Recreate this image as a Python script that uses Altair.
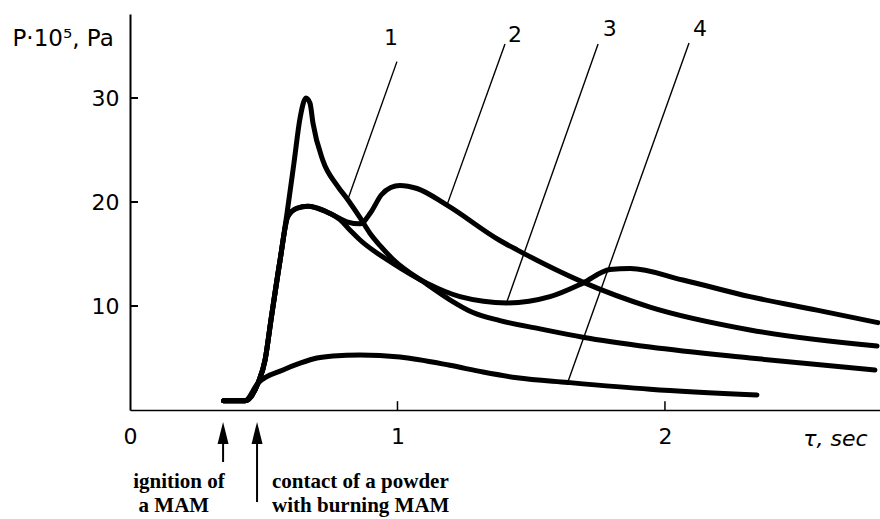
import altair as alt
import pandas as pd

# ---- curve data (time in s, pressure in 10^5 Pa) ----
c1_x = [0.35, 0.43, 0.479, 0.505, 0.527, 0.561, 0.587, 0.613, 0.636, 0.658, 0.673, 0.684, 0.721, 0.774, 0.815,
        0.86, 0.897, 0.935, 0.983, 1.11, 1.196, 1.28, 1.383, 1.533, 1.693, 1.944, 2.318, 2.785]
c1_y = [0.9, 0.9, 2.6, 4.8, 8.65, 14.4, 18.9, 23.75, 28.1, 30.0, 29.5, 27.6, 24.0, 21.6, 20.2,
        18.5, 17.0, 15.8, 14.5, 12.1, 10.6, 9.4, 8.6, 7.8, 7.0, 6.05, 5.0, 3.85]

c2_x = [0.35, 0.43, 0.479, 0.505, 0.527, 0.561, 0.59, 0.624, 0.665, 0.748, 0.811, 0.86, 0.9, 0.94, 0.975,
        1.009, 1.073, 1.185, 1.383, 1.447, 1.693, 1.944, 2.318, 2.793]
c2_y = [0.9, 0.9, 2.6, 4.8, 8.65, 14.4, 18.6, 19.4, 19.6, 18.9, 18.1, 17.9, 19.0, 20.7, 21.4,
        21.6, 21.3, 19.7, 16.3, 15.4, 12.3, 9.9, 7.7, 6.15]

c3_x = [0.35, 0.43, 0.479, 0.505, 0.527, 0.561, 0.59, 0.624, 0.665, 0.748, 0.785, 0.822, 0.86, 0.983, 1.11,
        1.234, 1.409, 1.57, 1.693, 1.794, 1.87, 2.067, 2.318, 2.568, 2.796]
c3_y = [0.9, 0.9, 2.6, 4.8, 8.65, 14.4, 18.6, 19.4, 19.6, 18.9, 18.3, 17.3, 16.35, 14.1, 12.2,
        10.9, 10.3, 10.9, 12.2, 13.5, 13.6, 12.5, 10.9, 9.6, 8.4]

c4_x = [0.35, 0.43, 0.479, 0.572, 0.636, 0.699, 0.759, 0.86, 1.009, 1.196, 1.32, 1.447, 1.637, 1.944, 2.344]
c4_y = [0.9, 0.9, 2.6, 3.85, 4.5, 5.0, 5.2, 5.3, 5.1, 4.3, 3.65, 3.1, 2.65, 2.0, 1.45]

# ---- curve labels and leader lines ----
lab_text = ["1", "2", "3", "4"]
lab_x = [0.976, 1.439, 1.794, 2.131]
lab_y = [35.8, 36.1, 36.6, 36.6]
lead_x1 = [0.998, 1.402, 1.750, 2.090]
lead_y1 = [33.5, 35.2, 35.2, 35.3]
lead_x2 = [0.815, 1.185, 1.409, 1.637]
lead_y2 = [20.3, 19.7, 10.4, 2.7]

# ---- axis ticks ----
y_ticks = [10, 20, 30]
x_ticks = [1, 2]

# ---- event arrows and notes ----
arrow_x = [0.348, 0.475]
arrow_head_y = [-2.2, -2.2]
arrow_top_y = [-2.9, -2.9]
arrow_bot_y = [-5.0, -8.85]
note_text = ["ignition of", "a MAM", "contact of a powder", "with burning MAM"]
note_x = [0.183, 0.164, 0.531, 0.531]
note_y = [-7.5, -9.8, -7.5, -9.8]
note_align = ["center", "center", "left", "left"]

rows = []
for name, xs, ys in [("1", c1_x, c1_y), ("2", c2_x, c2_y), ("3", c3_x, c3_y), ("4", c4_x, c4_y)]:
    for i, (a, b) in enumerate(zip(xs, ys)):
        rows.append({"curve": name, "x": a, "y": b, "order": i})
curves = pd.DataFrame(rows)

labels = pd.DataFrame({"t": lab_text, "x": lab_x, "y": lab_y})
leaders = pd.DataFrame({"x": lead_x1, "y": lead_y1, "x2": lead_x2, "y2": lead_y2})
yt = pd.DataFrame({"x": [0.0] * len(y_ticks), "x2": [0.03] * len(y_ticks), "y": y_ticks})
xt = pd.DataFrame({"x": x_ticks, "y": [0.0] * len(x_ticks), "y2": [0.85] * len(x_ticks)})
shafts = pd.DataFrame({"x": arrow_x, "y": arrow_top_y, "y2": arrow_bot_y})
heads = pd.DataFrame({"x": arrow_x, "y": arrow_head_y})
notes = pd.DataFrame({"t": note_text, "x": note_x, "y": note_y, "a": note_align})

FONT = "DejaVu Sans"
xscale = alt.Scale(domain=[0, 2.804], nice=False, zero=False)
yscale = alt.Scale(domain=[0, 38.08], nice=False, zero=False)
xaxis = alt.Axis(values=[0, 1, 2], format="d", ticks=False, grid=False, domainColor="black", domainWidth=1.5,
                 labelFont=FONT, labelFontSize=22, labelColor="black", labelPadding=16, labelFlush=False,
                 labelOverlap=False,
                 title="τ, sec", titleFont=FONT, titleFontSize=22, titleFontStyle="italic",
                 titleFontWeight="normal", titleColor="black", titleX=705, titleY=35,
                 titleAlign="center", titleBaseline="alphabetic")
yaxis = alt.Axis(values=[10, 20, 30], ticks=False, grid=False, domainColor="black", domainWidth=2,
                 labelFont=FONT, labelFontSize=22, labelColor="black", labelPadding=11,
                 title="P·10⁵, Pa", titleFont=FONT, titleFontSize=23, titleFontWeight="normal",
                 titleColor="black", titleAngle=0, titleX=-118, titleY=31,
                 titleAlign="left", titleBaseline="alphabetic")

X = alt.X("x:Q", scale=xscale, axis=xaxis)
Y = alt.Y("y:Q", scale=yscale, axis=yaxis)

lines = alt.Chart(curves).mark_line(color="black", strokeWidth=5, interpolate="monotone",
                                    strokeCap="round", strokeJoin="round").encode(
    x=X, y=Y, detail="curve:N", order="order:Q")

lead = alt.Chart(leaders).mark_rule(color="black", strokeWidth=1.4).encode(
    x=X, y=Y, x2="x2:Q", y2="y2:Q")

labs = alt.Chart(labels).mark_text(font=FONT, fontSize=22, color="black", baseline="middle").encode(
    x=X, y=Y, text="t:N")

yticks = alt.Chart(yt).mark_rule(color="black", strokeWidth=2).encode(x=X, x2="x2:Q", y=Y)
xticks = alt.Chart(xt).mark_rule(color="black", strokeWidth=1.5).encode(x=X, y=Y, y2="y2:Q")

shaft = alt.Chart(shafts).mark_rule(color="black", strokeWidth=2).encode(x=X, y=Y, y2="y2:Q")
head = alt.Chart(heads).mark_point(shape="M0,-1L0.5,1L-0.5,1Z", size=484, filled=True,
                                   color="black", opacity=1).encode(x=X, y=Y)

note_l = alt.Chart(notes[notes.a == "center"]).mark_text(
    font="Liberation Serif", fontWeight="bold", fontSize=21, color="black",
    align="center", baseline="alphabetic").encode(x=X, y=Y, text="t:N")
note_r = alt.Chart(notes[notes.a == "left"]).mark_text(
    font="Liberation Serif", fontWeight="bold", fontSize=21, color="black",
    align="left", baseline="alphabetic").encode(x=X, y=Y, text="t:N")

chart = alt.layer(lines, lead, labs, yticks, xticks, shaft, head, note_l, note_r).properties(
    width=750, height=396,
    autosize=alt.AutoSizeParams(type="none"),
    padding={"left": 130, "top": 14, "right": 0, "bottom": 109},
    background="white",
).configure_view(stroke=None)

chart.save("out.html", embed_options={"renderer": "svg", "actions": False})
